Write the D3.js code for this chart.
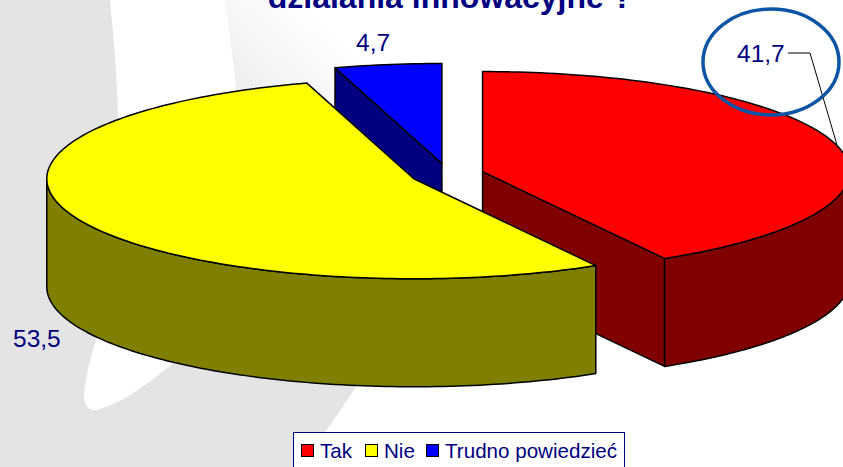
<!DOCTYPE html>
<html>
<head>
<meta charset="utf-8">
<script src="https://d3js.org/d3.v7.min.js"></script>
<style>
  html, body { margin: 0; padding: 0; background: #fff; overflow: hidden; }
  svg { display: block; }
  text { font-family: "Liberation Sans", Arial, sans-serif; fill: #000080; }
</style>
</head>
<body>
<script>
var width = 843,
    height = 467;

var categories = ["Tak", "Nie", "Trudno powiedzieć"];
var values = [41.7, 53.5, 4.7];
var titleText = "działania innowacyjne ?";

var topColor = d3.scaleOrdinal().domain(categories).range(["#ff0000", "#ffff00", "#0000ff"]);
var sideColor = d3.scaleOrdinal().domain(categories).range(["#800000", "#808000", "#000080"]);
var format = d3.formatLocale({ decimal: ",", thousands: " ", grouping: [3], currency: ["", ""] }).format(".1f");

// pie geometry, flattened 3d look
var cx = 447.3, cy = 174.4,
    rx = 367, ry = 100,
    depth = 108,
    explodeX = 36.5, explodeY = 11;

var svg = d3.select("body").append("svg")
    .attr("width", width)
    .attr("height", height);

var defs = svg.append("defs");
var grad = defs.append("linearGradient")
    .attr("id", "fade")
    .attr("gradientUnits", "userSpaceOnUse")
    .attr("x1", 345).attr("y1", 40)
    .attr("x2", 225).attr("y2", 170);
grad.append("stop").attr("offset", 0).attr("stop-color", "#ffffff");
grad.append("stop").attr("offset", 1).attr("stop-color", "#e4e4e4");

// slide background swoosh
svg.append("rect")
    .attr("width", 125).attr("height", height)
    .attr("fill", "#e4e4e4");
svg.append("path")
    .attr("fill", "url(#fade)")
    .attr("d", "M225,0 L360,0 L420,200 L357,385 Q340,412 300,467 L0,467 L0,100 L110,100 Z");
// white tongue between the two grey parts
svg.append("path")
    .attr("fill", "#ffffff")
    .attr("d", "M110,0 C114,40 117,80 118,115 C122,200 108,290 96,340 C88,365 84,385 84,398 C85,407 90,411 97,410 C125,402 150,382 172,364 C215,325 240,200 236,90 C233,60 229,30 225,0 Z");

var pie = d3.pie().sort(null).value(function(d) { return d; });
var slices = pie(values).map(function(s, i) {
  var mid = (s.startAngle + s.endAngle) / 2;
  return {
    name: categories[i],
    value: s.value,
    a0: s.startAngle,
    a1: s.endAngle,
    cx: cx + explodeX * Math.sin(mid),
    cy: cy - explodeY * Math.cos(mid)
  };
});

function pt(s, a, dy) {
  return [s.cx + rx * Math.sin(a), s.cy - ry * Math.cos(a) + (dy || 0)];
}

function arcPts(s, a0, a1, dy) {
  var n = Math.max(2, Math.ceil(Math.abs(a1 - a0) / 0.02));
  return d3.range(n + 1).map(function(i) {
    return pt(s, a0 + (a1 - a0) * i / n, dy);
  });
}

var line = d3.line();

function closed(pts) { return line(pts) + "Z"; }

function drawSlice(s) {
  var g = svg.append("g")
      .attr("stroke", "#000")
      .attr("stroke-width", 1.5)
      .attr("stroke-linejoin", "round");
  var side = sideColor(s.name), apex = [s.cx, s.cy], apexLow = [s.cx, s.cy + depth];

  // cut faces that look towards the viewer
  if (s.name == "Trudno powiedzieć") {
    g.append("path").attr("fill", side)
      .attr("d", closed([pt(s, s.a0), apex, apexLow, pt(s, s.a0, depth)]));
  }
  if (s.name == "Tak") {
    g.append("path").attr("fill", side)
      .attr("d", closed([apex, pt(s, s.a1), pt(s, s.a1, depth), apexLow]));
  }

  // outer wall, only the front half shows
  var w0 = Math.max(s.a0, Math.PI / 2), w1 = Math.min(s.a1, Math.PI * 1.5);
  if (w1 > w0) {
    g.append("path").attr("fill", side)
      .attr("d", closed(arcPts(s, w0, w1).concat(arcPts(s, w1, w0, depth))));
  }

  g.append("path").attr("fill", topColor(s.name))
    .attr("d", closed([apex].concat(arcPts(s, s.a0, s.a1))));
}

[slices[2], slices[0], slices[1]].forEach(drawSlice);

// title, first line is cut off by the frame
svg.append("text")
    .attr("x", 450).attr("y", 8)
    .attr("text-anchor", "middle")
    .attr("font-size", 32)
    .attr("font-weight", "bold")
    .text(titleText);

// data labels
var labelPos = [[737, 62], [13, 347], [356, 51]];
svg.selectAll(".label")
    .data(slices)
    .enter().append("text")
    .attr("class", "label")
    .attr("x", function(d, i) { return labelPos[i][0]; })
    .attr("y", function(d, i) { return labelPos[i][1]; })
    .attr("font-size", 24.5)
    .text(function(d) { return format(d.value); });

// leader line for the first label
svg.append("path")
    .attr("fill", "none")
    .attr("stroke", "#000")
    .attr("stroke-width", 1)
    .attr("d", "M788,53 L810,53 L837,145");

// hand drawn highlight round the label
svg.append("ellipse")
    .attr("cx", 771).attr("cy", 62)
    .attr("rx", 68).attr("ry", 53)
    .attr("fill", "none")
    .attr("stroke", "#0b55a4")
    .attr("stroke-width", 3.5);

// legend
var legend = svg.append("g");
legend.append("rect")
    .attr("x", 293.5).attr("y", 432.5)
    .attr("width", 331).attr("height", 50)
    .attr("fill", "#fff")
    .attr("stroke", "#000080")
    .attr("stroke-width", 1);

var legendX = [301, 365, 426];
var item = legend.selectAll(".item")
    .data(categories)
    .enter().append("g")
    .attr("class", "item")
    .attr("transform", function(d, i) { return "translate(" + legendX[i] + ",0)"; });
item.append("rect")
    .attr("x", 0.5).attr("y", 444.5)
    .attr("width", 12).attr("height", 12)
    .attr("fill", function(d) { return topColor(d); })
    .attr("stroke", "#000")
    .attr("stroke-width", 1);
item.append("text")
    .attr("x", 19).attr("y", 458)
    .attr("font-size", 20.6)
    .text(function(d) { return d; });
</script>
</body>
</html>
